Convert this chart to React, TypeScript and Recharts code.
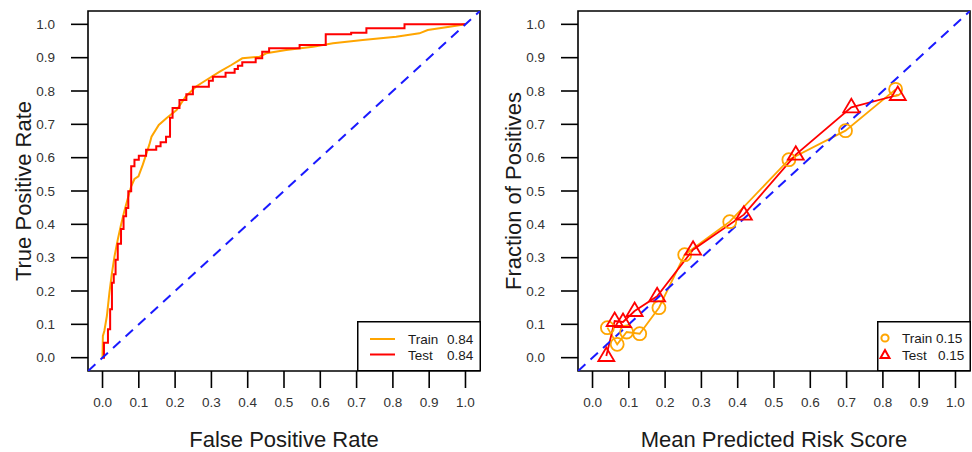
import React from "react";
import { LineChart, Line, XAxis, YAxis, ReferenceArea, Legend, Label } from "recharts";

// shared axis ticks (both panels run 0..1)
const tickValues = [0, 0.1, 0.2, 0.3, 0.4, 0.5, 0.6, 0.7, 0.8, 0.9, 1.0];
const axisDomain = [-0.04, 1.04];

// ROC - train (orange)
const trainFpr = [0, 0.001, 0.005, 0.012, 0.019, 0.026, 0.033, 0.042, 0.051, 0.06, 0.07, 0.079, 0.088, 0.099, 0.111, 0.12, 0.129, 0.135, 0.155, 0.176, 0.204, 0.229, 0.257, 0.286, 0.323, 0.355, 0.385, 0.433, 0.451, 0.506, 0.58, 0.635, 0.717, 0.809, 0.873, 0.896, 0.956, 1.0];
const trainTpr = [0, 0.065, 0.08, 0.125, 0.195, 0.254, 0.304, 0.354, 0.399, 0.439, 0.479, 0.514, 0.536, 0.544, 0.579, 0.609, 0.639, 0.663, 0.698, 0.718, 0.743, 0.783, 0.813, 0.833, 0.858, 0.878, 0.898, 0.903, 0.913, 0.923, 0.933, 0.943, 0.953, 0.963, 0.973, 0.983, 0.993, 1.0];

// ROC - test (red), step corners
const testFpr = [0, 0.004, 0.015, 0.021, 0.026, 0.031, 0.036, 0.042, 0.051, 0.058, 0.065, 0.071, 0.079, 0.088, 0.1, 0.12, 0.148, 0.16, 0.175, 0.186, 0.193, 0.212, 0.231, 0.249, 0.293, 0.304, 0.339, 0.364, 0.373, 0.385, 0.422, 0.44, 0.459, 0.543, 0.615, 0.685, 0.727, 0.832, 1.0];
const testTpr = [0, 0.045, 0.085, 0.145, 0.225, 0.25, 0.294, 0.342, 0.386, 0.424, 0.449, 0.499, 0.574, 0.594, 0.606, 0.624, 0.634, 0.646, 0.663, 0.72, 0.749, 0.773, 0.79, 0.813, 0.831, 0.843, 0.855, 0.866, 0.876, 0.886, 0.898, 0.918, 0.928, 0.938, 0.97, 0.975, 0.988, 1.0, 1.0];

// calibration
const trainPred = [0.041, 0.068, 0.094, 0.13, 0.183, 0.254, 0.378, 0.541, 0.697, 0.835];
const trainObs = [0.09, 0.04, 0.077, 0.072, 0.15, 0.309, 0.408, 0.594, 0.681, 0.805];
const testPred = [0.038, 0.061, 0.084, 0.116, 0.178, 0.277, 0.417, 0.56, 0.713, 0.841];
const testObs = [0.005, 0.11, 0.107, 0.14, 0.184, 0.324, 0.429, 0.609, 0.751, 0.788];

const diagX = [-0.04, 1.04];

const zip = (xs: number[], ys: number[]) => xs.map((x, i) => ({ x, y: ys[i] }));

const ORANGE = "#FFA500";
const RED = "#FF0000";
const BLUE = "#1a1aff";
const FONT = "'Liberation Sans', Arial, sans-serif";

const fmt = (v: number) => v.toFixed(1);

const XTitle = ({ viewBox, value }: any) => (
  <text x={viewBox.x + viewBox.width / 2} y={447} textAnchor="middle" fontSize={22} fill="#1a1a1a" fontFamily={FONT}>
    {value}
  </text>
);

const YTitle = ({ viewBox, value }: any) => {
  const cx = 23;
  const cy = viewBox.y + viewBox.height / 2;
  return (
    <text x={cx} y={cy} transform={`rotate(-90, ${cx}, ${cy})`} textAnchor="middle" dominantBaseline="central" fontSize={22} fill="#1a1a1a" fontFamily={FONT}>
      {value}
    </text>
  );
};

const RocLegend = () => (
  <svg width={124} height={50} style={{ display: "block" }}>
    <rect x={0.75} y={0.75} width={122.5} height={49} fill="#fff" stroke="#000" strokeWidth={1.5} />
    <line x1={13} x2={38} y1={18} y2={18} stroke={ORANGE} strokeWidth={2} />
    <line x1={13} x2={38} y1={33.5} y2={33.5} stroke={RED} strokeWidth={2} />
    <g fontSize={13.5} fill="#1a1a1a" fontFamily={FONT}>
      <text x={51} y={23}>Train</text>
      <text x={90} y={23}>0.84</text>
      <text x={51} y={39}>Test</text>
      <text x={90} y={39}>0.84</text>
    </g>
  </svg>
);

const CalLegend = () => (
  <svg width={94} height={50} style={{ display: "block" }}>
    <rect x={0.75} y={0.75} width={92.5} height={49} fill="#fff" stroke="#000" strokeWidth={1.5} />
    <circle cx={8} cy={17} r={3.6} fill="none" stroke={ORANGE} strokeWidth={2} />
    <path d="M8,29 L12.5,37 L3.5,37 Z" fill="none" stroke={RED} strokeWidth={2} />
    <g fontSize={13.5} fill="#1a1a1a" fontFamily={FONT}>
      <text x={25} y={22}>Train</text>
      <text x={59} y={22}>0.15</text>
      <text x={25} y={39}>Test</text>
      <text x={61} y={39}>0.15</text>
    </g>
  </svg>
);

const CircleDot = (p: any) => (
  <circle key={`c-${p.index}`} cx={p.cx} cy={p.cy} r={6.5} fill="none" stroke={ORANGE} strokeWidth={1.8} />
);

const TriDot = (p: any) => (
  <path
    key={`t-${p.index}`}
    d={`M${p.cx},${p.cy - 8.5} L${p.cx + 8},${p.cy + 5} L${p.cx - 8},${p.cy + 5} Z`}
    fill="none"
    stroke={RED}
    strokeWidth={1.8}
  />
);

const tickStyle = { fill: "#333", fontSize: 13.5, fontFamily: FONT };
const tickLineStyle = { stroke: "#000", strokeWidth: 1.6 };

const axes = (xTitle: string, yTitle: string) => [
  <XAxis
    key="x"
    type="number"
    dataKey="x"
    domain={axisDomain}
    ticks={tickValues}
    interval={0}
    allowDataOverflow
    tickFormatter={fmt}
    axisLine={false}
    tickSize={17}
    tickMargin={9}
    tickLine={tickLineStyle}
    tick={tickStyle}
    height={81}
  >
    <Label value={xTitle} content={XTitle} />
  </XAxis>,
  <YAxis
    key="y"
    type="number"
    dataKey="y"
    domain={axisDomain}
    ticks={tickValues}
    interval={0}
    allowDataOverflow
    tickFormatter={fmt}
    axisLine={false}
    tickSize={17}
    tickMargin={16}
    tickLine={tickLineStyle}
    tick={tickStyle}
    width={88}
  >
    <Label value={yTitle} content={YTitle} />
  </YAxis>,
  <ReferenceArea key="box" x1={-0.04} x2={1.04} y1={-0.04} y2={1.04} fill="none" stroke="#000" strokeWidth={1.6} fillOpacity={0} />,
];

export default function App() {
  const diag = diagX.map((x) => ({ x, y: x }));
  return (
    <div style={{ position: "absolute", left: 0, top: 0, width: 972, height: 452, background: "#fff", overflow: "hidden" }}>
      <div style={{ position: "absolute", left: 0, top: 0 }}>
        <LineChart width={490} height={452} margin={{ top: 11, right: 10, left: 0, bottom: 0 }}>
          {axes("False Positive Rate", "True Positive Rate")}
          <Line data={zip(trainFpr, trainTpr)} dataKey="y" type="linear" stroke={ORANGE} strokeWidth={2} dot={false} activeDot={false} isAnimationActive={false} />
          <Line data={zip(testFpr, testTpr)} dataKey="y" type="stepAfter" stroke={RED} strokeWidth={2} dot={false} activeDot={false} isAnimationActive={false} />
          <Line data={diag} dataKey="y" type="linear" stroke={BLUE} strokeWidth={2} strokeDasharray="10 7" dot={false} activeDot={false} isAnimationActive={false} />
          <Legend layout="vertical" align="center" verticalAlign="middle" content={RocLegend} wrapperStyle={{ left: 357, top: 321, width: 124, height: 50 }} />
        </LineChart>
      </div>
      <div style={{ position: "absolute", left: 490, top: 0 }}>
        <LineChart width={482} height={452} margin={{ top: 11, right: 2, left: 0, bottom: 0 }}>
          {axes("Mean Predicted Risk Score", "Fraction of Positives")}
          <Line data={zip(trainPred, trainObs)} dataKey="y" type="linear" stroke={ORANGE} strokeWidth={1.8} dot={CircleDot} activeDot={false} isAnimationActive={false} />
          <Line data={zip(testPred, testObs)} dataKey="y" type="linear" stroke={RED} strokeWidth={1.8} dot={TriDot} activeDot={false} isAnimationActive={false} />
          <Line data={diag} dataKey="y" type="linear" stroke={BLUE} strokeWidth={2} strokeDasharray="10 7" dot={false} activeDot={false} isAnimationActive={false} />
          <Legend layout="vertical" align="center" verticalAlign="middle" content={CalLegend} wrapperStyle={{ left: 387, top: 321, width: 94, height: 50 }} />
        </LineChart>
      </div>
    </div>
  );
}
